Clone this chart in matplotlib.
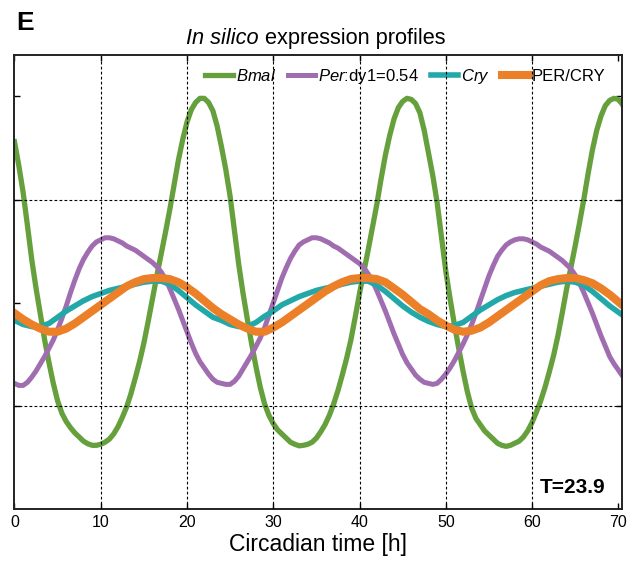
import matplotlib
matplotlib.use("Agg")
import matplotlib.pyplot as plt
from matplotlib import font_manager
from matplotlib.offsetbox import TextArea, HPacker, AnchoredOffsetbox

# circadian time grids (h): half-hourly for the sharp curves, hourly for the flat ones
half_hours = [i / 2 for i in range(143)]
hours = list(range(72))

bmal = [3.56, 3.33, 3.07, 2.75, 2.42, 2.14, 1.89, 1.64, 1.42, 1.22, 1.05, 0.93,
        0.85, 0.79, 0.74, 0.70, 0.66, 0.635, 0.62, 0.62, 0.63, 0.65, 0.68, 0.73,
        0.80, 0.89, 0.99, 1.12, 1.27, 1.43, 1.61, 1.82, 2.04, 2.26, 2.47, 2.68,
        2.90, 3.14, 3.38, 3.58, 3.75, 3.87, 3.94, 3.98, 3.98, 3.94, 3.86, 3.71,
        3.51, 3.29, 3.03, 2.70, 2.37, 2.09, 1.84, 1.60, 1.38, 1.18, 1.02, 0.91,
        0.83, 0.77, 0.73, 0.69, 0.65, 0.63, 0.615, 0.62, 0.63, 0.65, 0.69, 0.75,
        0.82, 0.91, 1.02, 1.15, 1.30, 1.46, 1.64, 1.86, 2.09, 2.30, 2.51, 2.73,
        2.95, 3.20, 3.43, 3.62, 3.78, 3.89, 3.95, 3.98, 3.97, 3.93, 3.84, 3.67,
        3.45, 3.23, 2.97, 2.64, 2.31, 2.04, 1.79, 1.56, 1.34, 1.14, 0.98, 0.88,
        0.82, 0.76, 0.72, 0.68, 0.64, 0.62, 0.61, 0.62, 0.64, 0.66, 0.70, 0.76,
        0.84, 0.94, 1.05, 1.18, 1.33, 1.49, 1.68, 1.90, 2.13, 2.34, 2.55, 2.77,
        3.00, 3.25, 3.48, 3.67, 3.81, 3.91, 3.96, 3.98, 3.97, 3.92, 3.83]

per = [1.22, 1.20, 1.20, 1.23, 1.28, 1.34, 1.41, 1.48, 1.56, 1.64, 1.74, 1.85,
       1.97, 2.10, 2.22, 2.33, 2.42, 2.49, 2.55, 2.59, 2.61, 2.63, 2.63, 2.62,
       2.60, 2.58, 2.55, 2.53, 2.51, 2.48, 2.45, 2.42, 2.39, 2.35, 2.30, 2.23,
       2.14, 2.04, 1.94, 1.83, 1.72, 1.61, 1.51, 1.43, 1.37, 1.31, 1.26, 1.23,
       1.22, 1.21, 1.21, 1.24, 1.29, 1.36, 1.43, 1.50, 1.58, 1.66, 1.76, 1.88,
       2.00, 2.12, 2.24, 2.34, 2.43, 2.50, 2.56, 2.59, 2.61, 2.63, 2.63, 2.62,
       2.60, 2.58, 2.55, 2.53, 2.50, 2.47, 2.44, 2.41, 2.38, 2.34, 2.28, 2.21,
       2.12, 2.02, 1.92, 1.81, 1.70, 1.60, 1.50, 1.42, 1.36, 1.30, 1.26, 1.23,
       1.22, 1.21, 1.22, 1.26, 1.31, 1.37, 1.44, 1.52, 1.60, 1.69, 1.79, 1.90,
       2.02, 2.14, 2.26, 2.36, 2.45, 2.51, 2.56, 2.59, 2.61, 2.62, 2.62, 2.61,
       2.59, 2.57, 2.54, 2.52, 2.50, 2.47, 2.44, 2.41, 2.37, 2.33, 2.27, 2.19,
       2.10, 2.00, 1.90, 1.79, 1.68, 1.58, 1.48, 1.41, 1.35, 1.29, 1.25]

cry = [1.83, 1.79, 1.77, 1.77, 1.80, 1.86, 1.92, 1.97, 2.02, 2.06, 2.09, 2.12,
       2.14, 2.16, 2.18, 2.20, 2.21, 2.21, 2.18, 2.12, 2.05, 1.98, 1.92, 1.86,
       1.83, 1.79, 1.77, 1.77, 1.81, 1.87, 1.92, 1.98, 2.02, 2.06, 2.09, 2.12,
       2.14, 2.16, 2.18, 2.20, 2.21, 2.21, 2.17, 2.11, 2.04, 1.97, 1.91, 1.86,
       1.82, 1.79, 1.77, 1.78, 1.81, 1.87, 1.93, 1.98, 2.03, 2.07, 2.10, 2.12,
       2.14, 2.16, 2.18, 2.20, 2.21, 2.20, 2.17, 2.11, 2.04, 1.97, 1.91, 1.85]

per_cry = [1.90, 1.84, 1.79, 1.75, 1.72, 1.72, 1.75, 1.80, 1.86, 1.92, 1.98, 2.04,
           2.10, 2.16, 2.20, 2.23, 2.24, 2.24, 2.23, 2.20, 2.15, 2.09, 2.02, 1.95,
           1.89, 1.84, 1.79, 1.75, 1.72, 1.72, 1.76, 1.81, 1.87, 1.93, 1.99, 2.05,
           2.11, 2.16, 2.20, 2.23, 2.24, 2.24, 2.23, 2.20, 2.14, 2.08, 2.01, 1.94,
           1.89, 1.83, 1.78, 1.74, 1.72, 1.73, 1.76, 1.81, 1.87, 1.93, 1.99, 2.05,
           2.11, 2.17, 2.21, 2.23, 2.24, 2.24, 2.22, 2.19, 2.14, 2.08, 2.01, 1.94]

labels = [r'$Bmal$', r'$Per$:dy1=0.54', r'$Cry$', 'PER/CRY']
x_ticks = [0, 10, 20, 30, 40, 50, 60, 70]
period_label = 'T=23.9'

# condensed face if available, else plain Liberation Sans
installed = {f.name for f in font_manager.fontManager.ttflist}
face = 'Liberation Sans Narrow' if 'Liberation Sans Narrow' in installed else 'Liberation Sans'
narrow = face != 'Liberation Sans'

plt.rcParams['font.family'] = [face, 'DejaVu Sans']
plt.rcParams['mathtext.fontset'] = 'custom'
plt.rcParams['mathtext.it'] = face + ':italic'
plt.rcParams['mathtext.rm'] = face

fig = plt.figure(figsize=(6.38, 5.71), dpi=100)
ax = fig.add_axes([0.0227, 0.108, 0.9518, 0.7957])

ax.plot(half_hours, bmal, color='#65A03C', lw=3.8, label=labels[0])
ax.plot(half_hours, per, color='#A06EB0', lw=3.6, label=labels[1])
ax.plot(hours, cry, color='#22A8A8', lw=4.0, label=labels[2])
ax.plot(hours, per_cry, color='#EC8028', lw=5.8, label=labels[3])

ax.set_xlim(0, 70.4)
ax.set_ylim(0, 4.4)

# dashed grid on top of the curves
for xv in x_ticks[1:-1]:
    ax.axvline(xv, color='black', lw=0.8, ls=(0, (2.5, 2)), zorder=6)
for yv in [1, 3]:
    ax.axhline(yv, color='black', lw=0.8, ls=(0, (2.5, 2)), zorder=6)

ax.set_xticks(x_ticks)
ax.set_yticks([1, 2, 3, 4])
ax.set_yticklabels([])
ax.tick_params(direction='in', length=4.5, width=1.0, top=True, right=True,
               labelsize=12.8 if narrow else 11.5, pad=4)
for sp in ax.spines.values():
    sp.set_linewidth(1.4)
    sp.set_color('#222222')

ax.set_xlabel('Circadian time [h]', fontsize=19 if narrow else 16.5, labelpad=2)

leg = ax.legend(loc='center', bbox_to_anchor=(0.644, 0.952), ncol=4, frameon=False,
                fontsize=13.4 if narrow else 12, handlelength=1.65, handletextpad=0.18,
                columnspacing=0.7, borderaxespad=0, borderpad=0)
leg.set_zorder(5)

ax.text(0.9737, 0.036, period_label, transform=ax.transAxes, ha='right', va='baseline',
        fontsize=15, fontweight='bold', family='Liberation Sans')

# title, "In silico" in italics
tp = dict(fontsize=15.7, family='Liberation Sans')
title_box = HPacker(children=[TextArea('In silico', textprops=dict(tp, style='italic')),
                              TextArea('expression profiles', textprops=tp)],
                    align='baseline', pad=0, sep=4.4)
anchored = AnchoredOffsetbox(loc='lower center', child=title_box, pad=0, borderpad=0,
                             bbox_to_anchor=(0.4964, 1.013), bbox_transform=ax.transAxes,
                             frameon=False)
ax.add_artist(anchored)

fig.text(0.025, 0.948, 'E', fontsize=19, fontweight='bold', family='Liberation Sans',
         va='baseline')

fig.savefig('out.png', dpi=100)
